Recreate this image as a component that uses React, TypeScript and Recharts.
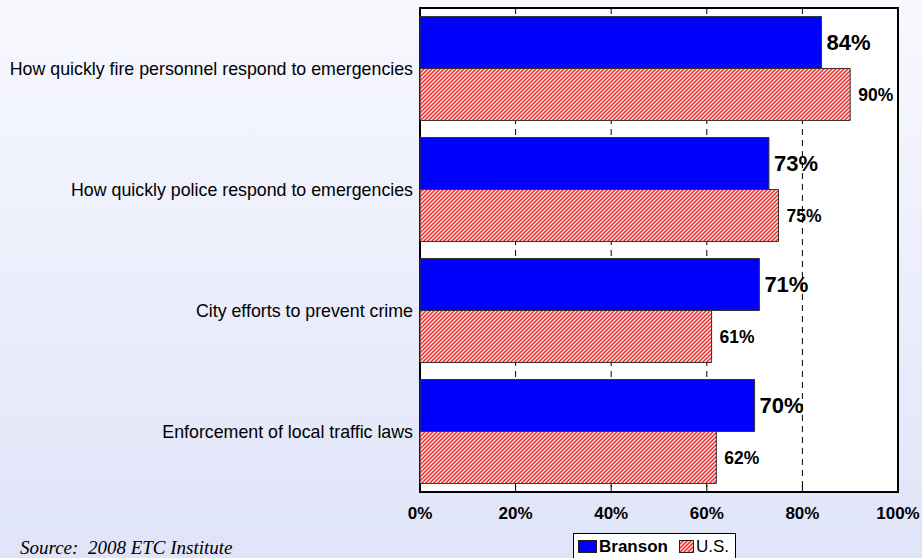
import React from 'react';
import { BarChart, Bar, XAxis, YAxis, CartesianGrid, LabelList, ReferenceArea, Legend } from 'recharts';

const categories = [
  'How quickly fire personnel respond to emergencies',
  'How quickly police respond to emergencies',
  'City efforts to prevent crime',
  'Enforcement of local traffic laws',
];
const bransonValues = [84, 73, 71, 70];
const usValues = [90, 75, 61, 62];
const xTicks = [0, 20, 40, 60, 80, 100];
const seriesNames = ['Branson', 'U.S.'];

const data = categories.map((name, i) => ({ name, branson: bransonValues[i], us: usValues[i] }));

const FONT = '"Liberation Sans", Arial, sans-serif';
const HATCH_W = 2.828;

const LegendBox = () => (
  <div
    style={{
      border: '1px solid #000',
      background: '#fff',
      padding: '3px 6px 8px 4px',
      display: 'flex',
      alignItems: 'center',
      fontFamily: FONT,
      fontSize: 17,
      lineHeight: '19px',
      color: '#000',
      whiteSpace: 'nowrap',
    }}
  >
    <svg width={19} height={13} style={{ marginRight: 2 }}>
      <rect x={0.5} y={0.5} width={18} height={12} fill="#0000FF" stroke="#222" />
    </svg>
    <span style={{ fontWeight: 'bold', marginRight: 11 }}>{seriesNames[0]}</span>
    <svg width={15} height={13} style={{ marginRight: 2 }}>
      <defs>
        <pattern id="hatchLegend" patternUnits="userSpaceOnUse" width={HATCH_W} height={HATCH_W} patternTransform="rotate(45)">
          <rect x={0} y={0} width={HATCH_W} height={HATCH_W} fill="#fff" />
          <rect x={0} y={0} width={HATCH_W / 2} height={HATCH_W} fill="#FF0000" />
        </pattern>
      </defs>
      <rect x={0.5} y={0.5} width={14} height={12} fill="url(#hatchLegend)" stroke="#222" />
    </svg>
    <span>{seriesNames[1]}</span>
  </div>
);

export default function App() {
  return (
    <div
      style={{
        position: 'absolute',
        left: 0,
        top: 0,
        width: 922,
        height: 558,
        overflow: 'hidden',
        background: 'linear-gradient(to bottom, #F8F9FE 0%, #EEF0FC 40%, #E0E4F8 100%)',
      }}
    >
      <BarChart
        width={922}
        height={558}
        data={data}
        layout="vertical"
        margin={{ top: 8, right: 24, bottom: 36, left: 0 }}
        barCategoryGap="7%"
        barGap={0}
        style={{ fontFamily: FONT }}
      >
        <defs>
          <pattern id="hatch" patternUnits="userSpaceOnUse" width={HATCH_W} height={HATCH_W} patternTransform="rotate(45)">
            <rect x={0} y={0} width={HATCH_W} height={HATCH_W} fill="#fff" />
            <rect x={0} y={0} width={HATCH_W / 2} height={HATCH_W} fill="#FF0000" />
          </pattern>
        </defs>
        <CartesianGrid horizontal={false} vertical stroke="#000" strokeDasharray="6 5" fill="#fff" fillOpacity={1} />
        <XAxis
          type="number"
          domain={[0, 100]}
          ticks={xTicks}
          tickFormatter={(v: number) => `${v}%`}
          axisLine={false}
          height={30}
          tickSize={-7}
          tickMargin={22}
          tickLine={{ stroke: '#000', strokeWidth: 1 }}
          tick={{ fontSize: 17, fontWeight: 'bold', fill: '#000', fontFamily: FONT }}
          interval={0}
        />
        <YAxis
          type="category"
          dataKey="name"
          width={420}
          axisLine={false}
          tickLine={false}
          tickMargin={1}
          tick={{ fontSize: 17.8, fill: '#000', fontFamily: FONT }}
          interval={0}
        />
        <Bar dataKey="branson" name={seriesNames[0]} fill="#0000FF" stroke="#333" strokeWidth={1} isAnimationActive={false}>
          <LabelList
            dataKey="branson"
            position="right"
            offset={5}
            formatter={(v: number) => `${v}%`}
            style={{ fontSize: 22, fontWeight: 'bold', fill: '#000', fontFamily: FONT }}
          />
        </Bar>
        <Bar dataKey="us" name={seriesNames[1]} fill="url(#hatch)" stroke="#333" strokeWidth={1} isAnimationActive={false}>
          <LabelList
            dataKey="us"
            position="right"
            offset={8}
            formatter={(v: number) => `${v}%`}
            style={{ fontSize: 17.5, fontWeight: 'bold', fill: '#000', fontFamily: FONT }}
          />
        </Bar>
        <ReferenceArea x1={0} x2={100} fill="none" stroke="#000" strokeWidth={2} ifOverflow="visible" />
        <Legend
          layout="vertical"
          align="center"
          verticalAlign="middle"
          content={() => <LegendBox />}
          wrapperStyle={{ left: 573, top: 533, width: 'auto', height: 'auto' }}
        />
      </BarChart>
      <div
        style={{
          position: 'absolute',
          left: 20,
          top: 538,
          fontFamily: '"Liberation Serif", "Times New Roman", serif',
          fontStyle: 'italic',
          fontSize: 19,
          lineHeight: '19px',
          color: '#000',
          whiteSpace: 'pre',
        }}
      >
        {'Source:  2008 ETC Institute'}
      </div>
    </div>
  );
}
